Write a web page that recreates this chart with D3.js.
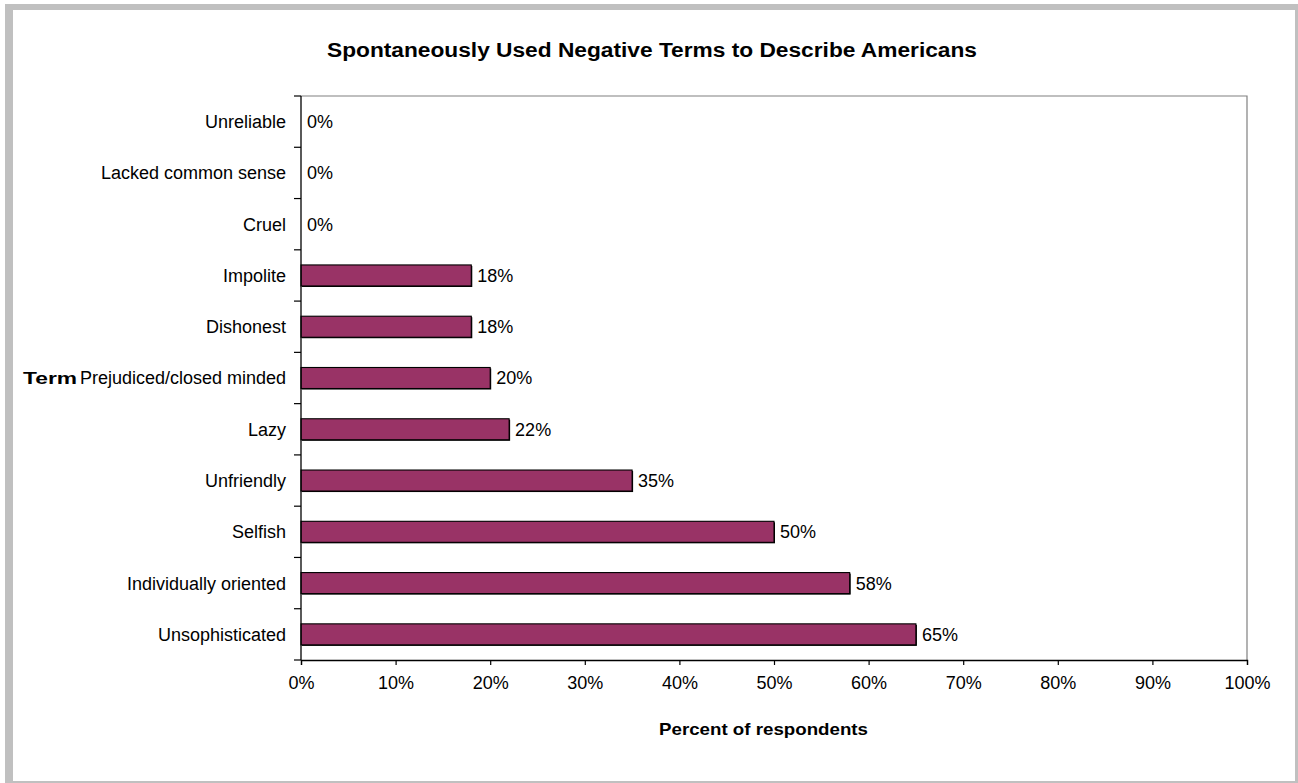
<!DOCTYPE html>
<html>
<head>
<meta charset="utf-8">
<script src="https://cdn.jsdelivr.net/npm/d3@7"></script>
<style>
  html, body { margin: 0; padding: 0; background: #fff; }
  svg { display: block; font-family: "Liberation Sans", Arial, sans-serif; }
</style>
</head>
<body>
<svg id="chart" width="1298" height="783"></svg>
<script>
// Categories listed top to bottom, with percent of respondents
const categories = [
  "Unreliable", "Lacked common sense", "Cruel", "Impolite", "Dishonest",
  "Prejudiced/closed minded", "Lazy", "Unfriendly", "Selfish",
  "Individually oriented", "Unsophisticated"
];
const values = [0, 0, 0, 18, 18, 20, 22, 35, 50, 58, 65];
const xTicks = [0, 10, 20, 30, 40, 50, 60, 70, 80, 90, 100];

const chartTitle = "Spontaneously Used Negative Terms to Describe Americans";
const xTitle = "Percent of respondents";
const yTitle = "Term";

const svg = d3.select("#chart");
const W = 1298, H = 783;
const FONT = 18;

// outer frame: gray band around a white chart area
svg.append("rect").attr("x", 0).attr("y", 0).attr("width", W).attr("height", H).attr("fill", "#fff");
svg.append("rect").attr("x", 5).attr("y", 4).attr("width", W - 5).attr("height", H - 4).attr("fill", "#c0c0c0");
svg.append("rect").attr("x", 13).attr("y", 10).attr("width", W - 3 - 13).attr("height", H - 2 - 10).attr("fill", "#fff");

const plot = { left: 301, top: 96, right: 1247, bottom: 660 };

const x = d3.scaleLinear().domain([0, 100]).range([plot.left, plot.right]);
const y = d3.scaleBand().domain(categories).range([plot.top, plot.bottom]).paddingInner(0.59).paddingOuter(0.295);
const yBands = d3.scaleBand().domain(categories).range([plot.top, plot.bottom]);

// plot area border (top and right in gray)
svg.append("path")
  .attr("d", `M${plot.left},${plot.top}H${plot.right}V${plot.bottom}`)
  .attr("fill", "none").attr("stroke", "#808080").attr("stroke-width", 1.2);

// bars: dark offset edge underneath, then the filled bar with outline
const visible = categories.filter((d, i) => values[i] > 0);
const valOf = d => values[categories.indexOf(d)];
svg.append("g").selectAll("rect").data(visible).join("rect")
  .attr("x", plot.left + 1)
  .attr("y", d => y(d) + 1)
  .attr("width", d => x(valOf(d)) - plot.left)
  .attr("height", y.bandwidth())
  .attr("fill", "#000");
svg.append("g").selectAll("rect").data(visible).join("rect")
  .attr("x", plot.left)
  .attr("y", d => y(d))
  .attr("width", d => x(valOf(d)) - plot.left)
  .attr("height", y.bandwidth())
  .attr("fill", "#993366")
  .attr("stroke", "#000")
  .attr("stroke-width", 1.1);

// value labels
svg.append("g").selectAll("text").data(categories).join("text")
  .attr("x", (d, i) => x(values[i]) + 6)
  .attr("y", d => y(d) + y.bandwidth() / 2)
  .attr("dy", "0.36em")
  .attr("font-size", FONT)
  .attr("fill", "#000")
  .text((d, i) => values[i] + "%");

// y axis: line with ticks at band boundaries
const yAxisG = svg.append("g");
yAxisG.append("line")
  .attr("x1", plot.left).attr("x2", plot.left)
  .attr("y1", plot.top).attr("y2", plot.bottom)
  .attr("stroke", "#000").attr("stroke-width", 1.3);
const boundaries = categories.map(c => yBands(c)).concat([plot.bottom]);
yAxisG.selectAll("line.tick").data(boundaries).join("line")
  .attr("class", "tick")
  .attr("x1", plot.left - 7).attr("x2", plot.left)
  .attr("y1", d => d).attr("y2", d => d)
  .attr("stroke", "#000").attr("stroke-width", 1.2);
yAxisG.selectAll("text").data(categories).join("text")
  .attr("x", plot.left - 15)
  .attr("y", d => yBands(d) + yBands.bandwidth() / 2)
  .attr("dy", "0.36em")
  .attr("text-anchor", "end")
  .attr("font-size", FONT)
  .text(d => d);

// x axis
const xAxis = d3.axisBottom(x).tickValues(xTicks).tickSize(5).tickPadding(11).tickFormat(d => d + "%");
const xg = svg.append("g").attr("transform", `translate(0,${plot.bottom})`).call(xAxis);
xg.select(".domain").attr("stroke", "#000").attr("stroke-width", 1.3);
xg.selectAll(".tick line").attr("stroke", "#000").attr("stroke-width", 1.2);
xg.selectAll(".tick text").attr("font-size", FONT).attr("fill", "#000")
  .attr("font-family", "Liberation Sans, Arial, sans-serif");

// titles (bold, set wide)
svg.append("text")
  .attr("x", 327).attr("y", 57)
  .attr("font-size", 19.5).attr("font-weight", "bold")
  .attr("textLength", 650).attr("lengthAdjust", "spacingAndGlyphs")
  .text(chartTitle);

svg.append("text")
  .attr("x", 659).attr("y", 735)
  .attr("font-size", 17).attr("font-weight", "bold")
  .attr("textLength", 209).attr("lengthAdjust", "spacingAndGlyphs")
  .text(xTitle);

svg.append("text")
  .attr("x", 23)
  .attr("y", yBands("Prejudiced/closed minded") + yBands.bandwidth() / 2)
  .attr("dy", "0.36em")
  .attr("font-size", 17).attr("font-weight", "bold")
  .attr("textLength", 54).attr("lengthAdjust", "spacingAndGlyphs")
  .text(yTitle);
</script>
</body>
</html>
